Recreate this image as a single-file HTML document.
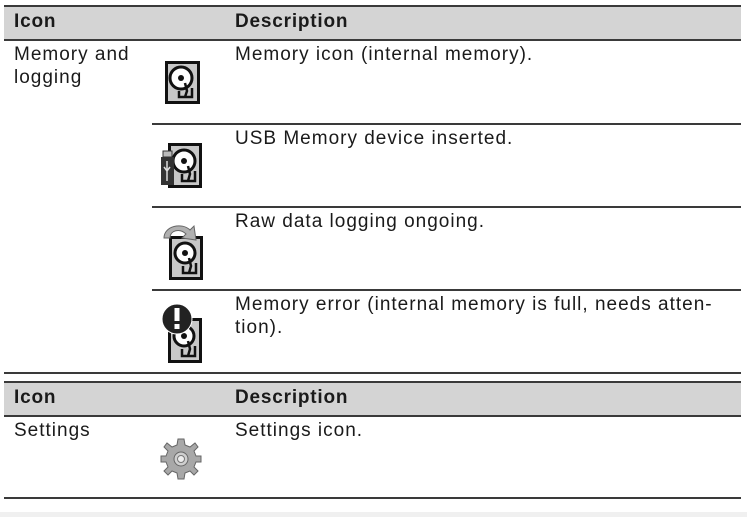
<!DOCTYPE html>
<html><head><meta charset="utf-8"><style>
html,body{margin:0;padding:0;background:#fff;}
body{width:747px;height:517px;position:relative;overflow:hidden;font-family:"Liberation Sans",sans-serif;font-size:19px;letter-spacing:1px;color:#1a1a1a;}
.t{position:absolute;white-space:nowrap;line-height:23px;}
.b{font-weight:bold;letter-spacing:0.8px;}
.hl{position:absolute;left:4px;width:737px;height:2px;background:#3a3a3a;}
.hd{position:absolute;left:4px;width:737px;background:#d4d4d4;}
.ln{position:absolute;height:2px;background:#3a3a3a;}
svg{position:absolute;}
</style></head><body>
<div class="hd" style="top:7px;height:32px"></div>
<div class="hl" style="top:5px"></div>
<div class="hl" style="top:39px"></div>
<div class="t b" style="left:14px;top:10px">Icon</div>
<div class="t b" style="left:235px;top:10px">Description</div>
<div class="t" style="left:14px;top:43px">Memory and<br>logging</div>
<div class="t" style="left:235px;top:43px">Memory icon (internal memory).</div>
<div class="ln" style="left:152px;width:589px;top:123px"></div>
<div class="t" style="left:235px;top:127px">USB Memory device inserted.</div>
<div class="ln" style="left:152px;width:589px;top:206px"></div>
<div class="t" style="left:235px;top:210px">Raw data logging ongoing.</div>
<div class="ln" style="left:152px;width:589px;top:289px"></div>
<div class="t" style="left:235px;top:293px">Memory error (internal memory is full, needs atten-<br>tion).</div>
<div class="hl" style="top:372px"></div>

<div class="hd" style="top:383px;height:32px"></div>
<div class="hl" style="top:381px"></div>
<div class="hl" style="top:415px"></div>
<div class="t b" style="left:14px;top:386px">Icon</div>
<div class="t b" style="left:235px;top:386px">Description</div>
<div class="t" style="left:14px;top:419px">Settings</div>
<div class="t" style="left:235px;top:419px">Settings icon.</div>
<div class="hl" style="top:497px"></div>
<div style="position:absolute;left:0;top:512px;width:747px;height:5px;background:#f0f0f0"></div>

<svg style="left:165px;top:61px" width="35" height="43" viewBox="0 0 35 43">
<rect x="0" y="0" width="35" height="43" fill="#111"/><rect x="3" y="3" width="29" height="37" fill="#c8c8c8"/>
<circle cx="16" cy="17" r="11" fill="#fff" stroke="#111" stroke-width="3"/><circle cx="16" cy="17" r="3" fill="#111"/>
<path d="M20 22 L22 30 L20 36 M14 30 V36 H27 V27" fill="none" stroke="#111" stroke-width="2.5"/></svg>
<svg style="left:160px;top:143px" width="42" height="45" viewBox="0 0 42 45">
<rect x="8" y="0" width="34" height="45" fill="#111"/><rect x="11" y="3" width="28" height="39" fill="#c8c8c8"/>
<circle cx="24" cy="18" r="11" fill="#fff" stroke="#111" stroke-width="3"/><circle cx="24" cy="18" r="3" fill="#111"/>
<path d="M28 23 L30 31 L28 38 M22 31 V38 H35 V28" fill="none" stroke="#111" stroke-width="2.5"/>
<rect x="3" y="8" width="9" height="6" fill="#bbb" stroke="#333"/><rect x="1" y="14" width="13" height="28" fill="#333"/>
<path d="M7 18 V38 M4 24 L7 28 L10 24" stroke="#ddd" stroke-width="1.5" fill="none"/></svg>
<svg style="left:160px;top:220px" width="44" height="60" viewBox="0 0 44 60">
<rect x="9" y="16" width="34" height="44" fill="#111"/><rect x="12" y="19" width="28" height="38" fill="#c8c8c8"/>
<circle cx="25" cy="33" r="10" fill="#fff" stroke="#111" stroke-width="3"/><circle cx="25" cy="33" r="3" fill="#111"/>
<path d="M29 38 L31 46 L29 53 M23 46 V53 H36 V43" fill="none" stroke="#111" stroke-width="2.5"/>
<path d="M4 18 C4 6 22 2 30 10 L34 6 L36 20 L22 18 L26 14 C20 8 10 10 10 18 Z" fill="#b0b0b0" stroke="#666"/></svg>
<svg style="left:157px;top:302px" width="46" height="61" viewBox="0 0 46 61">
<rect x="11" y="16" width="34" height="45" fill="#111"/><rect x="14" y="19" width="28" height="39" fill="#c8c8c8"/>
<circle cx="27" cy="34" r="10" fill="#fff" stroke="#111" stroke-width="3"/><circle cx="27" cy="34" r="3" fill="#111"/>
<path d="M31 39 L33 47 L31 54 M25 47 V54 H38 V44" fill="none" stroke="#111" stroke-width="2.5"/>
<circle cx="20" cy="17" r="15" fill="#222" stroke="#fff" stroke-width="1"/>
<rect x="17.5" y="6" width="5" height="13" fill="#fff"/><rect x="17.5" y="22" width="5" height="5" fill="#fff"/></svg>
<svg style="left:160px;top:438px" width="42" height="42" viewBox="-21 -21 42 42">
<g fill="#a8a8a8" stroke="#666" stroke-width="1">
<path d="M-3,-20 H3 L4,-14 L9,-12 L14,-16 L17,-12 L13,-8 L15,-3 L20,-3 V3 L15,3 L13,8 L17,12 L13,16 L9,12 L4,14 L3,20 H-3 L-4,14 L-9,12 L-13,16 L-17,12 L-13,8 L-15,3 L-20,3 V-3 L-15,-3 L-13,-8 L-17,-12 L-14,-16 L-9,-12 L-4,-14 Z"/></g>
<circle r="7" fill="#cfcfcf" stroke="#666"/><circle r="3.5" fill="#eee" stroke="#777"/></svg>
</body></html>
